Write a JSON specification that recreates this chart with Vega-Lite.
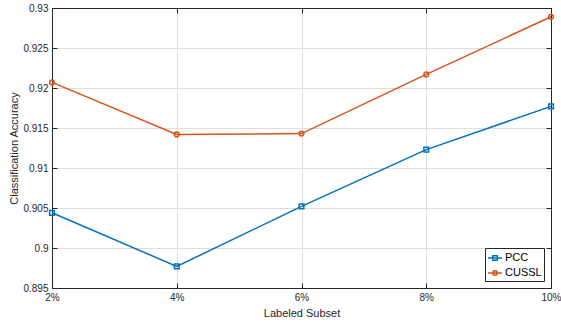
{
  "$schema": "https://vega.github.io/schema/vega-lite/v6.json",
  "autosize": "none",
  "width": 499,
  "height": 280,
  "padding": {"left": 52, "top": 8, "right": 10, "bottom": 34},
  "background": "white",
  "config": {
    "font": "Liberation Sans",
    "view": {"stroke": null},
    "axis": {
      "labelFont": "Liberation Sans",
      "titleFont": "Liberation Sans",
      "labelFontSize": 10,
      "labelColor": "#262626",
      "titleColor": "#262626",
      "titleFontSize": 11,
      "titleFontWeight": "normal",
      "domainColor": "#262626",
      "domainWidth": 1,
      "tickColor": "#262626",
      "tickSize": -5,
      "tickWidth": 1,
      "gridColor": "#dedede",
      "gridWidth": 1,
      "labelOverlap": false
    }
  },
  "data": {
    "values": [
      {"subset": 2, "method": "PCC", "acc": 0.9044},
      {"subset": 4, "method": "PCC", "acc": 0.8977},
      {"subset": 6, "method": "PCC", "acc": 0.9052},
      {"subset": 8, "method": "PCC", "acc": 0.9123},
      {"subset": 10, "method": "PCC", "acc": 0.9177},
      {"subset": 2, "method": "CUSSL", "acc": 0.9207},
      {"subset": 4, "method": "CUSSL", "acc": 0.9142},
      {"subset": 6, "method": "CUSSL", "acc": 0.9143},
      {"subset": 8, "method": "CUSSL", "acc": 0.9217},
      {"subset": 10, "method": "CUSSL", "acc": 0.9289}
    ]
  },
  "layer": [
    {
      "layer": [
        {
          "mark": {"type": "line", "strokeWidth": 1.5},
          "encoding": {
            "x": {
              "field": "subset", "type": "quantitative",
              "scale": {"domain": [2, 10], "nice": false, "zero": false},
              "axis": {
                "title": "Labeled Subset", "values": [2, 4, 6, 8, 10], "tickCount": 20,
                "labelExpr": "datum.value + '%'", "grid": true,
                "labelPadding": 9, "titlePadding": 5, "labelFlush": false, "labelOverlap": false
              }
            },
            "y": {
              "field": "acc", "type": "quantitative",
              "scale": {"domain": [0.895, 0.93], "nice": false, "zero": false},
              "axis": {
                "title": "Classification Accuracy",
                "values": [0.895, 0.9, 0.905, 0.91, 0.915, 0.92, 0.925, 0.93], "tickCount": 20,
                "labelExpr": "format(datum.value, '~g')",
                "grid": true, "labelPadding": 9, "titlePadding": 3,
                "labelOverlap": false, "labelFlush": false
              }
            },
            "color": {
              "field": "method", "type": "nominal",
              "scale": {"domain": ["PCC", "CUSSL"], "range": ["#0072BD", "#D95319"]},
              "legend": {
                "title": null,
                "orient": "bottom-right",
                "offset": 7,
                "fillColor": "white",
                "strokeColor": "#262626",
                "padding": 2,
                "labelFont": "Liberation Sans",
                "labelFontSize": 11,
                "labelColor": "#000000",
                "symbolSize": 196,
                "symbolStrokeWidth": 1.5,
                "rowPadding": 1,
                "labelOffset": 2,
                "encode": {
                  "symbols": {
                    "update": {
                      "shape": {"signal": "datum.value == 'PCC' ? 'M-1,0H1M-0.32,-0.32H0.32V0.32H-0.32Z' : 'M-1,0H1M0.32,0A0.32,0.32 0 1,1 -0.32,0A0.32,0.32 0 1,1 0.32,0'"},
                      "fill": {"value": "transparent"}
                    }
                  }
                }
              }
            }
          }
        },
        {
          "transform": [{"filter": "datum.method == 'PCC'"}],
          "mark": {"type": "point", "shape": "square", "filled": false, "strokeWidth": 1.5, "opacity": 1, "size": 22, "color": "#0072BD"},
          "encoding": {
            "x": {"field": "subset", "type": "quantitative"},
            "y": {"field": "acc", "type": "quantitative"}
          }
        },
        {
          "transform": [{"filter": "datum.method == 'CUSSL'"}],
          "mark": {"type": "point", "shape": "circle", "filled": false, "strokeWidth": 1.5, "opacity": 1, "size": 22, "color": "#D95319"},
          "encoding": {
            "x": {"field": "subset", "type": "quantitative"},
            "y": {"field": "acc", "type": "quantitative"}
          }
        }
      ]
    },
    {
      "mark": {"type": "point", "opacity": 0},
      "encoding": {
        "x": {
          "field": "subset", "type": "quantitative",
          "scale": {"domain": [2, 10], "nice": false, "zero": false},
          "axis": {"orient": "top", "title": null, "labels": false, "values": [2, 4, 6, 8, 10], "tickCount": 20, "grid": false}
        },
        "y": {
          "field": "acc", "type": "quantitative",
          "scale": {"domain": [0.895, 0.93], "nice": false, "zero": false},
          "axis": {"orient": "right", "title": null, "labels": false, "values": [0.895, 0.9, 0.905, 0.91, 0.915, 0.92, 0.925, 0.93], "tickCount": 20, "grid": false}
        }
      }
    }
  ],
  "resolve": {"scale": {"x": "independent", "y": "independent"}, "axis": {"x": "independent", "y": "independent"}}
}
